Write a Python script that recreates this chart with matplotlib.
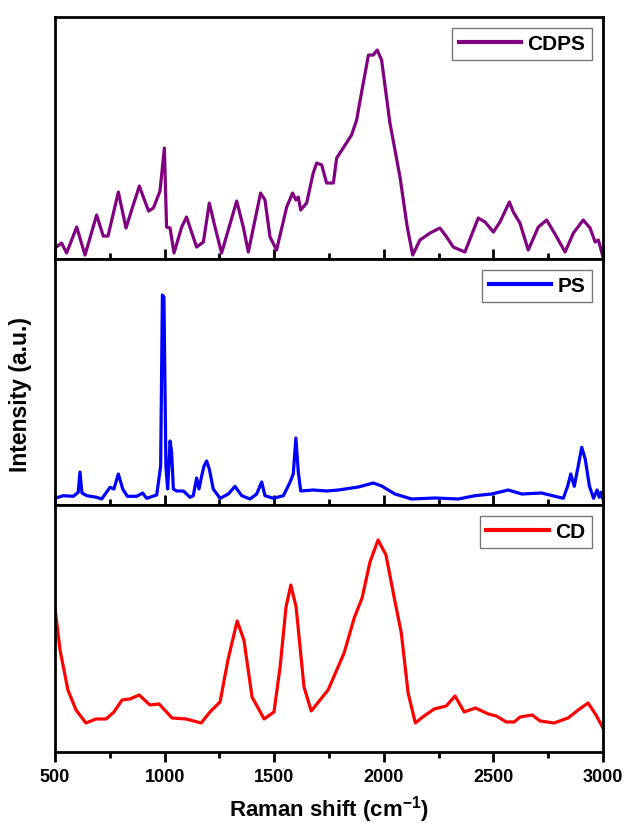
import matplotlib
matplotlib.use('Agg')
import matplotlib.pyplot as plt
from matplotlib.ticker import MultipleLocator

plt.rcParams['font.family'] = ['Liberation Sans', 'DejaVu Sans']
plt.rcParams['font.weight'] = 'bold'
plt.rcParams['mathtext.fontset'] = 'custom'
plt.rcParams['mathtext.bf'] = 'Liberation Sans:bold'
plt.rcParams['mathtext.rm'] = 'Liberation Sans:bold'
plt.rcParams['mathtext.default'] = 'bf'

# CDPS spectrum (arbitrary units)
cdps_x = [500, 530, 553, 599, 637, 690, 720, 742, 789, 824, 854, 885, 903, 927, 949, 979,
          999, 1009, 1025, 1043, 1078, 1100, 1146, 1177, 1204, 1230, 1260, 1329, 1359, 1382,
          1438, 1458, 1481, 1511, 1557, 1584, 1599, 1610, 1621, 1648, 1678, 1694, 1717, 1739,
          1770, 1785, 1853, 1876, 1899, 1930, 1952, 1970, 1990, 2028, 2074, 2107, 2132, 2165,
          2211, 2256, 2287, 2317, 2370, 2431, 2462, 2500, 2530, 2573, 2591, 2621, 2659, 2705,
          2743, 2789, 2827, 2865, 2910, 2941, 2964, 2979, 3000]
cdps_y = [11, 16, 6, 32, 4, 44, 23, 23, 67, 31, 52, 73, 62, 48, 51, 68,
          111, 32, 31, 6, 32, 42, 12, 17, 56, 32, 6, 58, 32, 7,
          66, 59, 22, 9, 52, 66, 59, 62, 49, 56, 86, 96, 94, 76,
          76, 101, 124, 139, 167, 204, 204, 209, 199, 136, 82, 32, 4, 19,
          26, 31, 22, 12, 7, 41, 37, 27, 37, 57, 47, 36, 9, 32,
          39, 22, 7, 26, 39, 31, 17, 19, 2]

# PS spectrum
ps_x = [500, 538, 584, 606, 614, 623, 645, 690, 713, 751, 769, 789, 809, 830, 873, 900,
        918, 964, 982, 990, 997, 1006, 1014, 1025, 1032, 1040, 1055, 1086, 1116, 1131,
        1146, 1157, 1169, 1180, 1192, 1204, 1222, 1253, 1291, 1321, 1352, 1390, 1420,
        1443, 1458, 1496, 1542, 1572, 1587, 1599, 1610, 1621, 1678, 1740, 1793, 1884,
        1952, 1990, 2051, 2127, 2234, 2340, 2416, 2492, 2568, 2629, 2720, 2781, 2819,
        2839, 2853, 2869, 2887, 2903, 2919, 2938, 2957, 2973, 2983, 2991, 3000]
ps_y = [6.7, 9.3, 8.7, 12.7, 33, 12, 9.3, 7.7, 6, 17.7, 16, 31, 16, 8.7, 8.7, 12,
        6.7, 10, 39, 210, 208, 39, 16, 64, 53, 16, 14, 14, 7.7, 9.3,
        27, 16, 29, 39, 44, 36, 16, 6.7, 11, 18.7, 9.3, 6, 11,
        23, 9.3, 6.7, 9.3, 22.7, 31, 67, 33, 14, 15, 14, 15, 18,
        22, 19, 11, 6, 7, 6, 9.3, 11, 15, 11, 12, 8.7, 6.7,
        19, 31, 18.7, 39, 57.7, 46, 19, 6.7, 15, 7.7, 12.7, 6]

# CD spectrum
cd_x = [500, 523, 559, 596, 641, 687, 733, 769, 806, 842, 884, 933, 975, 1034, 1098, 1167,
        1207, 1253, 1289, 1331, 1362, 1399, 1454, 1499, 1527, 1554, 1576, 1600, 1636, 1669,
        1746, 1819, 1865, 1901, 1937, 1974, 2010, 2047, 2080, 2111, 2144, 2184, 2230, 2285,
        2325, 2367, 2418, 2477, 2513, 2559, 2595, 2622, 2677, 2713, 2777, 2841, 2887, 2932,
        2968, 3000]
cd_y = [144, 102, 62, 42, 29, 33, 33, 40, 52, 53, 57, 47, 48, 34, 33, 29,
        40, 50, 92, 131, 112, 55, 33, 40, 85, 145, 167, 145, 65, 41,
        62, 99, 134, 154, 190, 212, 197, 155, 119, 59, 29, 36, 43, 46,
        56, 40, 44, 38, 36, 30, 30, 35, 37, 31, 29, 34, 42, 49,
        37, 24]

series = [
    (cdps_x, cdps_y, 'CDPS', '#800080', 242),
    (ps_x, ps_y, 'PS', '#0000FF', 246),
    (cd_x, cd_y, 'CD', '#FF0000', 247),
]

fig = plt.figure(figsize=(6.27, 8.31), dpi=100)
left, right = 0.0877, 0.9617
bounds = [(0.6883, 0.9795), (0.3923, 0.6883), (0.0951, 0.3923)]

axes = []
for i, (x, y, name, color, top) in enumerate(series):
    b, t = bounds[i]
    ax = fig.add_axes([left, b, right - left, t - b])
    ax.plot(x, y, color=color, lw=2.3, label=name)
    ax.set_xlim(500, 3000)
    ax.set_ylim(0, top)
    ax.set_yticks([])
    ax.xaxis.set_major_locator(MultipleLocator(500))
    ax.xaxis.set_minor_locator(MultipleLocator(250))
    for sp in ax.spines.values():
        sp.set_linewidth(2.0)
    last = i == len(series) - 1
    ax.tick_params(axis='x', which='major', direction='out' if last else 'in',
                   length=7, width=2, labelsize=13, pad=5, labelbottom=last)
    ax.tick_params(axis='x', which='minor', direction='out' if last else 'in',
                   length=4.5, width=2)
    leg = ax.legend(loc='upper right', fancybox=False, handlelength=3.0,
                    handletextpad=0.3, borderpad=0.3, borderaxespad=0.55,
                    prop={'weight': 'bold', 'size': 15})
    leg.get_frame().set_edgecolor('#555555')
    leg.get_frame().set_linewidth(1.0)
    for h in leg.legend_handles:
        h.set_linewidth(3)
    axes.append(ax)

for lab in axes[-1].get_xticklabels():
    lab.set_fontweight('bold')

fig.text((left + right) / 2, 0.026, r'Raman shift (cm$^{-1}$)', fontsize=16,
         fontweight='bold', ha='center', va='center')
fig.text(0.032, 0.525, 'Intensity (a.u.)', rotation=90, fontsize=16.5, fontweight='bold',
         ha='center', va='center')

fig.savefig('out.png', dpi=100)
